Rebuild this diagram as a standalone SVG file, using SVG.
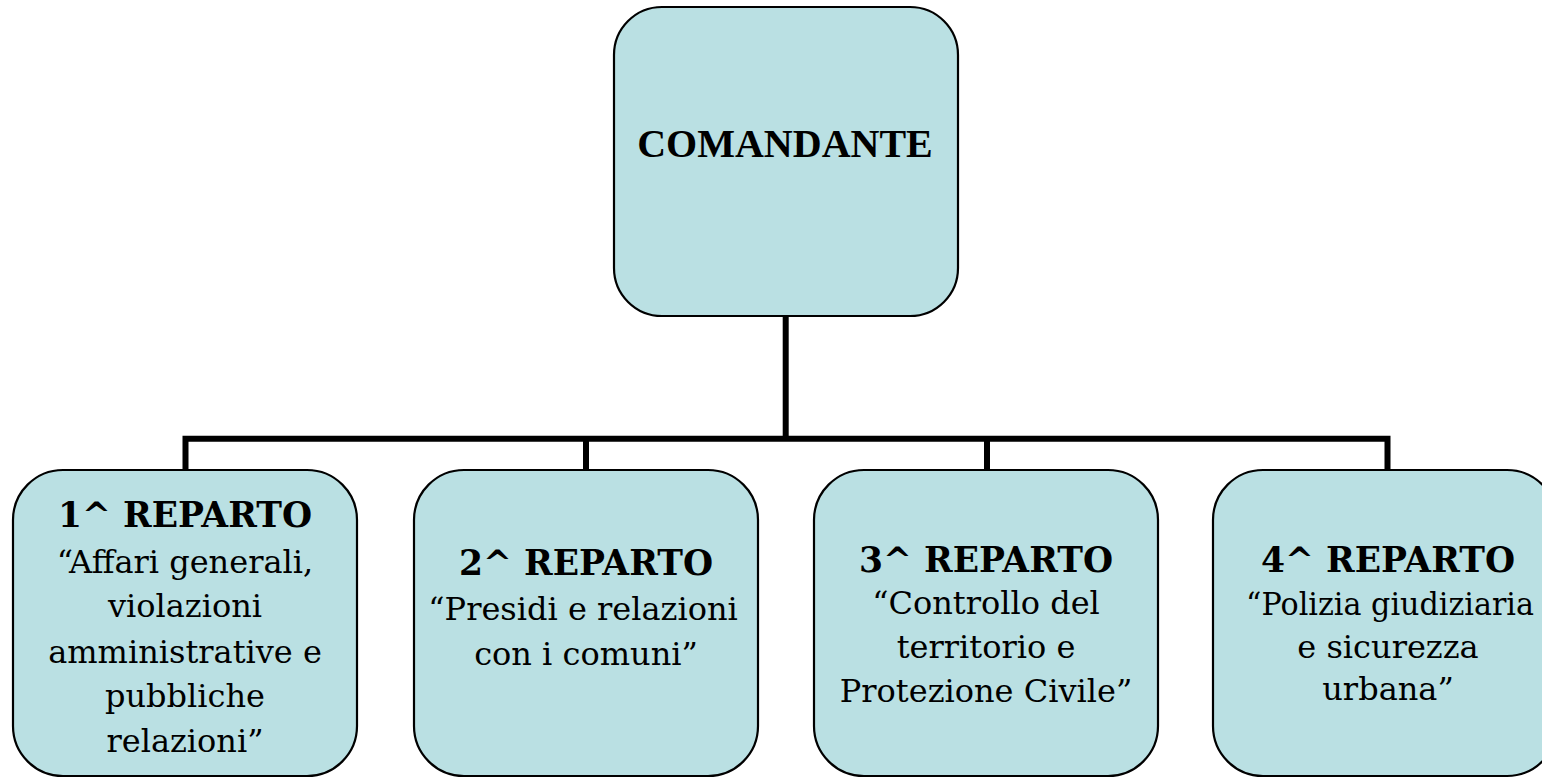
<svg xmlns="http://www.w3.org/2000/svg" width="1542" height="778" viewBox="0 0 1542 778">
<style>
.box{fill:#BAE0E3;stroke:#000;stroke-width:2.2}
.conn{fill:none;stroke:#000;stroke-width:6}
.t{font-family:"DejaVu Serif","Liberation Serif",serif;font-size:32px;fill:#000;text-anchor:middle}
.b{font-weight:bold;font-size:34.5px}
.top{font-family:"Liberation Serif","Times New Roman",serif;font-weight:bold;font-size:40px;fill:#000;text-anchor:middle}
</style>
<rect width="1542" height="778" fill="#fff"/>
<g id="connectors">
<path class="conn" d="M785.7 316V438.7"/>
<path class="conn" d="M185.5 470V438.7H1387.5V470"/>
<path class="conn" d="M586 438.7V470"/>
<path class="conn" d="M987 438.7V470"/>
</g>
<g id="comandante">
<rect class="box" x="614" y="7" width="344" height="309" rx="48"/>
<text class="top" x="785" y="157">COMANDANTE</text>
</g>
<g id="reparto1">
<rect class="box" x="13" y="470" width="344" height="306" rx="50"/>
<text class="t b" x="185" y="527">1^ REPARTO</text>
<text class="t" x="185" y="573">“Affari generali,</text>
<text class="t" x="185" y="617">violazioni</text>
<text class="t" x="185" y="663">amministrative e</text>
<text class="t" x="185" y="707">pubbliche</text>
<text class="t" x="185" y="752">relazioni”</text>
</g>
<g id="reparto2">
<rect class="box" x="414" y="470" width="344" height="306" rx="50"/>
<text class="t b" x="586" y="575">2^ REPARTO</text>
<text class="t" x="583" y="620">“Presidi e relazioni</text>
<text class="t" x="586" y="665">con i comuni”</text>
</g>
<g id="reparto3">
<rect class="box" x="814" y="470" width="344" height="306" rx="50"/>
<text class="t b" x="986" y="572">3^ REPARTO</text>
<text class="t" x="986" y="614">“Controllo del</text>
<text class="t" x="986" y="658">territorio e</text>
<text class="t" x="986" y="702">Protezione Civile”</text>
</g>
<g id="reparto4">
<rect class="box" x="1213" y="470" width="344" height="306" rx="50"/>
<text class="t b" x="1388" y="572">4^ REPARTO</text>
<text class="t" x="1390" y="615" textLength="288" lengthAdjust="spacingAndGlyphs">“Polizia giudiziaria</text>
<text class="t" x="1388" y="658">e sicurezza</text>
<text class="t" x="1388" y="700">urbana”</text>
</g>
</svg>
